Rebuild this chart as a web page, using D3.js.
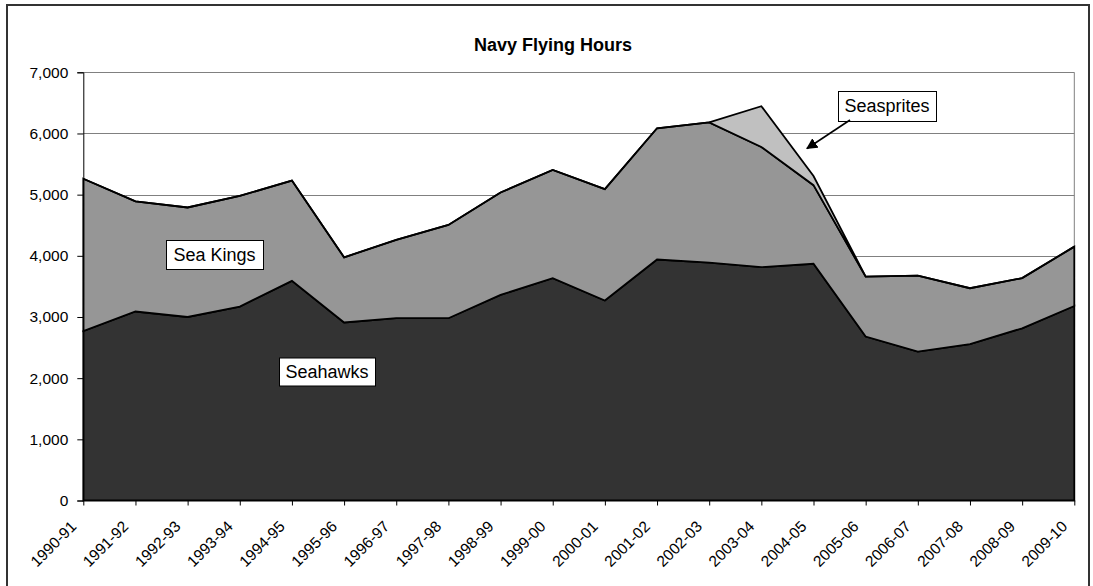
<!DOCTYPE html>
<html>
<head>
<meta charset="utf-8">
<script src="https://cdn.jsdelivr.net/npm/d3@7"></script>
<style>
  html, body { margin: 0; padding: 0; background: #fff; }
  svg { display: block; font-family: "Liberation Sans", Arial, sans-serif; }
</style>
</head>
<body>
<svg id="chart" width="1093" height="586"></svg>
<script>
// ---- Data ----
const categories = ["1990-91","1991-92","1992-93","1993-94","1994-95","1995-96","1996-97","1997-98","1998-99","1999-00",
                    "2000-01","2001-02","2002-03","2003-04","2004-05","2005-06","2006-07","2007-08","2008-09","2009-10"];
const seahawks   = [2770,3090,3000,3170,3590,2910,2980,2980,3360,3635,3270,3940,3890,3815,3870,2680,2435,2555,2815,3180];
const seaKings   = [2490,1800,1790,1810,1640,1065,1280,1525,1675,1770,1820,2145,2290,1965,1285, 980,1240, 915, 820, 970];
const seasprites = [   0,   0,   0,   0,   0,   0,   0,   0,   0,   0,   0,   0,   0, 665, 150,   0,   0,   0,   0,   0];
const yTicks = [0,1000,2000,3000,4000,5000,6000,7000];
const seriesNames = ["Seahawks","Sea Kings","Seasprites"];
const titleText = "Navy Flying Hours";

// ---- Layout ----
const W = 1093, H = 586;
const plot = {left: 83.3, right: 1074.3, top: 72.3, bottom: 500.5};
const colors = {"Seahawks": "#333333", "Sea Kings": "#969696", "Seasprites": "#c0c0c0"};

const svg = d3.select("#chart");
svg.append("rect").attr("x",0).attr("y",0).attr("width",W).attr("height",H).attr("fill","#fff");
// outer chart border
svg.append("rect").attr("x",7).attr("y",5).attr("width",1082).attr("height",620)
   .attr("fill","none").attr("stroke","#333").attr("stroke-width",2);

const x = d3.scalePoint().domain(categories).range([plot.left, plot.right]);
const y = d3.scaleLinear().domain([0,7000]).range([plot.bottom, plot.top]);

// gridlines
svg.append("g").selectAll("line").data(yTicks.filter(d => d > 0)).join("line")
   .attr("x1", plot.left).attr("x2", plot.right)
   .attr("y1", d => Math.round(y(d)) + 0.5).attr("y2", d => Math.round(y(d)) + 0.5)
   .attr("stroke", "#808080").attr("stroke-width", 1);
// plot area right border
svg.append("line").attr("x1", plot.right).attr("x2", plot.right)
   .attr("y1", plot.top).attr("y2", plot.bottom).attr("stroke","#808080").attr("stroke-width",1);

// stacked areas
const table = categories.map((c,i) => ({cat: c, "Seahawks": seahawks[i], "Sea Kings": seaKings[i], "Seasprites": seasprites[i]}));
const stack = d3.stack().keys(seriesNames)(table);
const area = d3.area()
  .x(d => x(d.data.cat))
  .y0(d => y(d[0]))
  .y1(d => y(d[1]));

svg.append("g").selectAll("path").data(stack).join("path")
   .attr("d", area)
   .attr("fill", d => colors[d.key])
   .attr("stroke", "#000").attr("stroke-width", 1.8).attr("stroke-linejoin","miter");

// y axis
const yAxis = d3.axisLeft(y).tickValues(yTicks).tickSize(6).tickPadding(9)
  .tickFormat(d3.format(","));
const gy = svg.append("g").attr("transform", `translate(${plot.left},0)`).call(yAxis);
gy.select(".domain").attr("stroke","#000");
gy.selectAll(".tick line").attr("stroke","#000");
gy.selectAll("text").attr("font-size", 15.5).attr("fill","#000")
  .attr("font-family", '"Liberation Sans", Arial, sans-serif');

// x axis
const xAxis = d3.axisBottom(x).tickSize(5).tickFormat(() => "");
const gx = svg.append("g").attr("transform", `translate(0,${plot.bottom})`).call(xAxis);
gx.select(".domain").attr("stroke","#000").attr("d", `M${plot.left},0H${plot.right}`);
gx.selectAll(".tick line").attr("stroke","#000");

svg.append("g").selectAll("text").data(categories).join("text")
   .attr("transform", d => `translate(${x(d) - 6},${plot.bottom + 27}) rotate(-45)`)
   .attr("text-anchor", "end")
   .attr("font-size", 15.5)
   .attr("fill", "#000")
   .text(d => d);

// title
svg.append("text").attr("x", 553).attr("y", 51).attr("text-anchor","middle")
   .attr("font-size", 18).attr("font-weight","bold").attr("fill","#000").text(titleText);

// series labels (boxes)
function labelBox(text, cx, cy, w, h) {
  const g = svg.append("g");
  g.append("rect").attr("x", cx - w/2 + 0.5).attr("y", cy - h/2 + 0.5).attr("width", w).attr("height", h)
    .attr("fill","#fff").attr("stroke","#000").attr("stroke-width",1);
  g.append("text").attr("x", cx).attr("y", cy).attr("dy","0.35em").attr("text-anchor","middle")
    .attr("font-size", 18).attr("fill","#000").text(text);
}
labelBox("Sea Kings", 214.5, 254.5, 97, 29);
labelBox("Seahawks", 327, 371.5, 96, 28);
labelBox("Seasprites", 887, 106, 98, 30);

// arrow from Seasprites label
const defs = svg.append("defs");
defs.append("marker").attr("id","arrow").attr("viewBox","0 0 10 10").attr("refX",9).attr("refY",5)
  .attr("markerWidth",7).attr("markerHeight",7).attr("orient","auto-start-reverse")
  .append("path").attr("d","M0,0L10,5L0,10z").attr("fill","#000");
svg.append("line").attr("x1", 850).attr("y1", 120).attr("x2", 807).attr("y2", 148.5)
   .attr("stroke","#000").attr("stroke-width",1.6).attr("marker-end","url(#arrow)");
</script>
</body>
</html>
